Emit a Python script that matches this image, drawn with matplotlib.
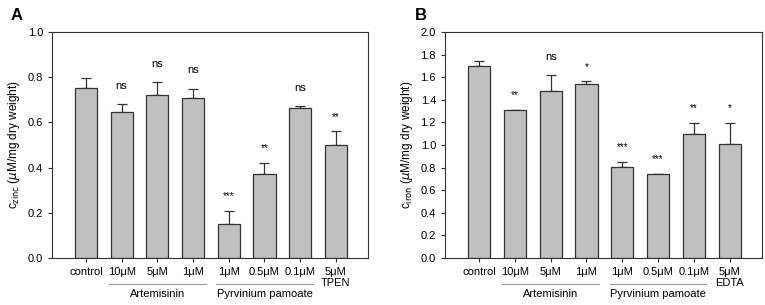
import numpy as np
import matplotlib.pyplot as plt

plt.rcParams['font.family'] = ['Liberation Sans', 'DejaVu Sans']

labels_a = ['control', '10\u03bcM', '5\u03bcM', '1\u03bcM', '1\u03bcM', '0.5\u03bcM', '0.1\u03bcM', '5\u03bcM\nTPEN']
labels_b = ['control', '10\u03bcM', '5\u03bcM', '1\u03bcM', '1\u03bcM', '0.5\u03bcM', '0.1\u03bcM', '5\u03bcM\nEDTA']

zinc = [0.752, 0.648, 0.720, 0.708, 0.150, 0.372, 0.665, 0.498]
zinc_err = [0.045, 0.035, 0.060, 0.042, 0.058, 0.050, 0.008, 0.062]
zinc_sig = ['', 'ns', 'ns', 'ns', '***', '**', 'ns', '**']

iron = [1.695, 1.308, 1.478, 1.537, 0.808, 0.742, 1.098, 1.008]
iron_err = [0.045, 0.004, 0.145, 0.025, 0.040, 0.005, 0.100, 0.185]
iron_sig = ['', '**', 'ns', '*', '***', '***', '**', '*']

groups = [('Artemisinin', 1, 3), ('Pyrvinium pamoate', 4, 6)]

fig = plt.figure(figsize=(7.65, 3.05), dpi=100)
ax_a = fig.add_axes([52/765, 1-258/305, 316/765, 226/305])
ax_b = fig.add_axes([445/765, 1-258/305, 317/765, 226/305])


def panel(ax, vals, errs, sig, labels, ymax, step, ylab):
    x = np.arange(len(vals))
    ax.bar(x, vals, width=0.62, color='#c0c0c0', edgecolor='#333333', linewidth=0.9, zorder=2)
    ax.errorbar(x, vals, yerr=[np.zeros(len(errs)), errs], fmt='none', ecolor='#333333',
                elinewidth=0.9, capsize=3.5, capthick=0.9, zorder=1)
    for xi, v, e, s in zip(x, vals, errs, sig):
        if not s:
            continue
        if s.startswith('*'):
            ax.text(xi, v + e + ymax*0.065, s, ha='center', va='center', fontsize=7)
        else:
            ax.text(xi, v + e + ymax*0.08, s, ha='center', va='center', fontsize=8)
    ax.set_xlim(-0.95, 7.9)
    ax.set_ylim(0, ymax)
    ticks = np.arange(0, ymax + step/2, step)
    ax.set_yticks(ticks)
    ax.set_yticklabels(['%.1f' % t for t in ticks], fontsize=8)
    ax.set_xticks(x)
    ax.set_xticklabels(labels, fontsize=8, va='top', linespacing=1.1)
    ax.tick_params(direction='out', length=3, width=0.8, color='#333333')
    for sp in ax.spines.values():
        sp.set_linewidth(0.8)
        sp.set_color('#333333')
    ax.set_ylabel(ylab, fontsize=8.5)
    for name, i0, i1 in groups:
        ax.plot([i0 - 0.35, i1 + 0.35], [-0.115*ymax, -0.115*ymax], color='#999999', lw=0.8,
                clip_on=False)
        ax.text((i0 + i1)/2, -0.135*ymax, name, ha='center', va='top', fontsize=8)


panel(ax_a, zinc, zinc_err, zinc_sig, labels_a, 1.0, 0.2,
      r'c$_{\mathrm{zinc}}$ ($\mu$M/mg dry weight)')
panel(ax_b, iron, iron_err, iron_sig, labels_b, 2.0, 0.2,
      r'c$_{\mathrm{iron}}$ ($\mu$M/mg dry weight)')

fig.text(17/765, 1-15/305, 'A', fontsize=12, fontweight='bold', ha='center', va='center')
fig.text(421/765, 1-15/305, 'B', fontsize=12, fontweight='bold', ha='center', va='center')

fig.savefig('out.png', dpi=100)
